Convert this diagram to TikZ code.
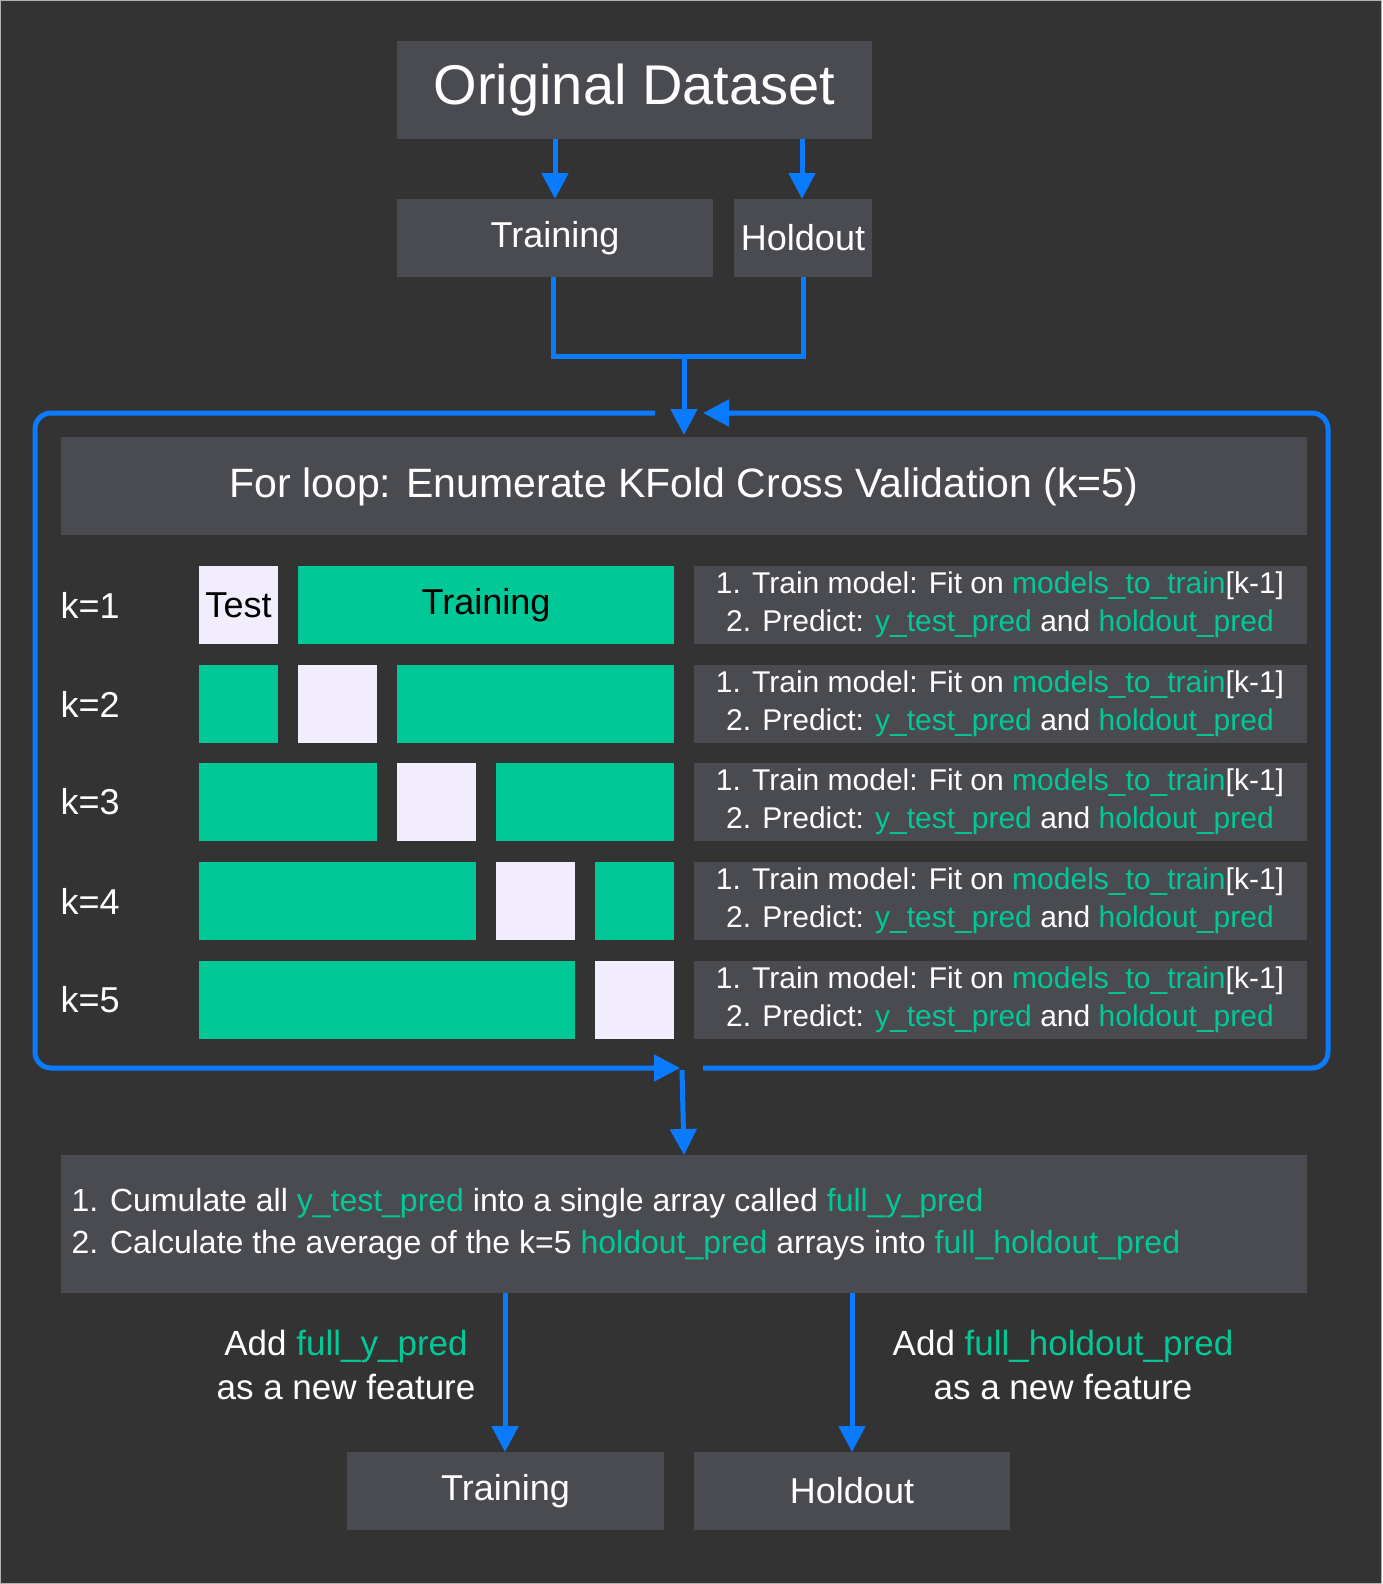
\documentclass[tikz,border=0pt]{standalone}
\usepackage{fontspec}
\setmainfont{Liberation Sans}
\usetikzlibrary{arrows.meta}
\definecolor{bg}{HTML}{333333}
\definecolor{box}{HTML}{4A4B50}
\definecolor{blu}{HTML}{0A7AFF}
\definecolor{grn}{HTML}{00C896}
\definecolor{tst}{HTML}{F1EDFC}
\newcommand{\gt}[1]{\textcolor{grn}{#1}}
\begin{document}
\begin{tikzpicture}[x=1pt,y=-1pt,
  bx/.style={fill=box,draw=none,text=white},
  fl/.style={line width=5pt,draw=blu},
  ar/.style={fl,-{Triangle[length=26pt,width=26pt]}},
  gb/.style={fill=grn},
  tb/.style={fill=tst},
  txt/.style={text=white,font=\fontsize{30}{38}\selectfont,align=center},
  kl/.style={text=white,font=\fontsize{36}{40}\selectfont,anchor=west}]
\fill[bg] (0,0) rectangle (1382,1584);
\draw[gray!60,line width=1pt] (0.5,0.5) rectangle (1381.5,1583.5);
% top
\fill[box] (397,41) rectangle (872,139);
\node[text=white,font=\fontsize{56}{60}\selectfont] (od) at (634.5,90) {Original Dataset};
\fill[box] (397,199) rectangle (713,277);
\node[text=white,font=\fontsize{36}{40}\selectfont] (tr) at (555,238) {Training};
\fill[box] (734,199) rectangle (872,277);
\node[text=white,font=\fontsize{36}{40}\selectfont] (ho) at (803,238) {Holdout};
\coordinate (a1) at (555,139); \coordinate (a2) at (555,199);
\coordinate (b1) at (802,139); \coordinate (b2) at (802,199);
\draw[ar] (a1) -- (a2);
\draw[ar] (b1) -- (b2);
\coordinate (c1) at (553,277); \coordinate (c2) at (803,277); \coordinate (c3) at (684,356); \coordinate (c4) at (684,435);
\draw[fl] (c1) |- (c3) -| (c2);
\draw[ar] (c3) -- (c4);
% loop
\coordinate (l1) at (655,413); \coordinate (l2) at (680,1068);
\coordinate (l3) at (703,1068); \coordinate (l4) at (703,413);
\draw[fl,rounded corners=16pt] (l1) -- (35,413) -- (35,1068) -- (660,1068);
\draw[ar] (655,1068) -- (l2);
\draw[fl,rounded corners=16pt] (l3) -- (1328,1068) -- (1328,413) -- (725,413);
\draw[ar] (730,413) -- (l4);
\fill[box] (61,437) rectangle (1307,535);
\node[text=white,font=\fontsize{41}{44}\selectfont] (hd) at (684,487) {For loop: Enumerate KFold Cross Validation (k=5)};
% rows
\foreach \k/\y in {1/566,2/665,3/763,4/862,5/961}{
  \node[kl] (k\k) at (57,\y+39) {k=\k};
  \fill[box] (694,\y) rectangle (1307,\y+78);
  \node[txt] (t\k) at (1000,\y+39) {1. Train model: Fit on \gt{models\_to\_train}[k-1]\\2. Predict: \gt{y\_test\_pred} and \gt{holdout\_pred}};
}
% row1
\fill[tb] (199,566) rectangle (278,644);
\node[font=\fontsize{36}{40}\selectfont] (te) at (238.5,605) {Test};
\fill[gb] (298,566) rectangle (674,644);
\node[font=\fontsize{36}{40}\selectfont] (trr) at (486,605) {Training};
% row2
\fill[gb] (199,665) rectangle (278,743);
\fill[tb] (298,665) rectangle (377,743);
\fill[gb] (397,665) rectangle (674,743);
% row3
\fill[gb] (199,763) rectangle (377,841);
\fill[tb] (397,763) rectangle (476,841);
\fill[gb] (496,763) rectangle (674,841);
% row4
\fill[gb] (199,862) rectangle (476,940);
\fill[tb] (496,862) rectangle (575,940);
\fill[gb] (595,862) rectangle (674,940);
% row5
\fill[gb] (199,961) rectangle (575,1039);
\fill[tb] (595,961) rectangle (674,1039);
% bottom
\coordinate (d1) at (682,1070); \coordinate (d2) at (684,1155);
\draw[ar] (d1) -- (d2);
\fill[box] (61,1155) rectangle (1307,1293);
\node[text=white,font=\fontsize{32}{42}\selectfont,align=left,anchor=west] (bt) at (68,1224) {1. Cumulate all \gt{y\_test\_pred} into a single array called \gt{full\_y\_pred}\\2. Calculate the average of the k=5 \gt{holdout\_pred} arrays into \gt{full\_holdout\_pred}};
\fill[box] (347,1452) rectangle (664,1530);
\node[text=white,font=\fontsize{36}{40}\selectfont] (tr2) at (505.5,1491) {Training};
\fill[box] (694,1452) rectangle (1010,1530);
\node[text=white,font=\fontsize{36}{40}\selectfont] (ho2) at (852,1491) {Holdout};
\coordinate (e1) at (505,1293); \coordinate (e2) at (505,1452);
\coordinate (f1) at (852,1293); \coordinate (f2) at (852,1452);
\draw[ar] (e1) -- (e2);
\draw[ar] (f1) -- (f2);
\node[text=white,font=\fontsize{35}{44}\selectfont,align=center] (la) at (346,1365) {Add \gt{full\_y\_pred}\\as a new feature};
\node[text=white,font=\fontsize{35}{44}\selectfont,align=center] (lb) at (1063,1365) {Add \gt{full\_holdout\_pred}\\as a new feature};
\end{tikzpicture}
\end{document}
